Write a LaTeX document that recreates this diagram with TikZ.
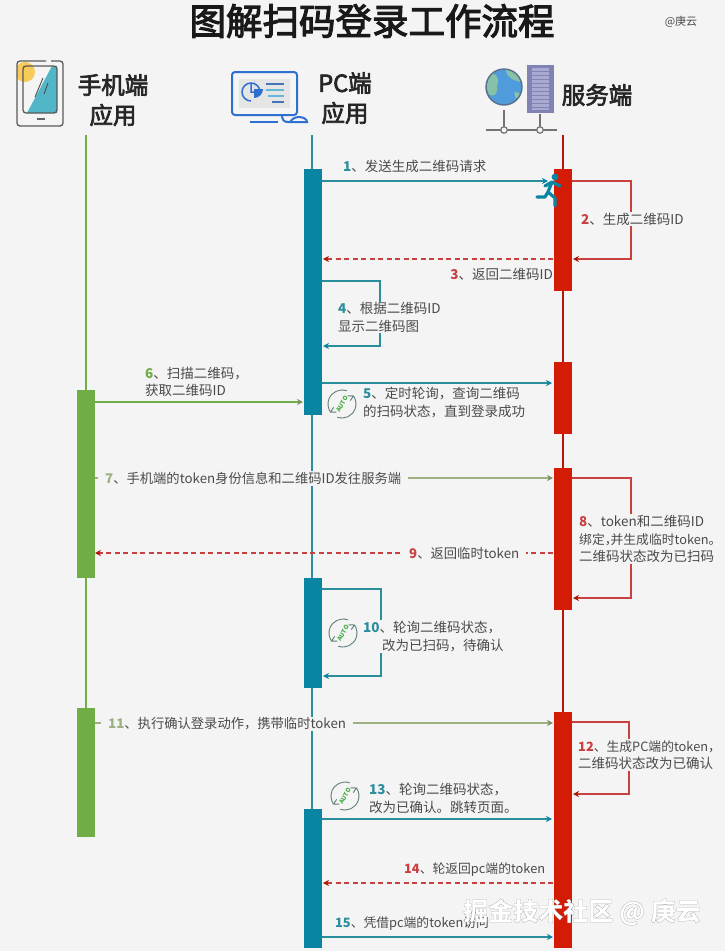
\documentclass[tikz,border=0pt]{standalone}
\usepackage{fontspec}
\usepackage{tikz}
\usetikzlibrary{arrows.meta}
\setmainfont{Noto Sans CJK SC}
\newfontfamily\outlinefont[BoldFeatures={FakeBold=0.04}]{Noto Sans CJK SC}
\newfontfamily\headfont[FakeBold=3]{Noto Sans CJK SC}
\definecolor{pagebg}{HTML}{F4F4F4}
\definecolor{txtgray}{HTML}{4A4A4A}
\definecolor{phonegreen}{HTML}{70AD47}
\definecolor{olivegreen}{HTML}{9DB07F}
\definecolor{pcteal}{HTML}{0A84A3}
\definecolor{lineteal}{HTML}{2B8E9C}
\definecolor{srvred}{HTML}{D41B06}
\definecolor{linered}{HTML}{C8403F}
\definecolor{iconblue}{HTML}{2F6FD0}
\definecolor{iconline}{HTML}{5F7F78}
\definecolor{screenteal}{HTML}{52B6C9}
\definecolor{sunyellow}{HTML}{F6CB5A}
\definecolor{globeblue}{HTML}{4F9BDB}
\definecolor{globegreen}{HTML}{86C2A8}
\definecolor{globeedge}{HTML}{5A6F8C}
\definecolor{rackdark}{HTML}{8183B5}
\definecolor{racklight}{HTML}{A9AAD2}
\newcommand{\stepno}[2]{\textcolor{#1}{\textbf{#2}}、}
\newcommand{\tightline}{\fontsize{12.8}{17.5}\selectfont}
\tikzset{
  barbox/.style={rectangle, inner sep=0pt, outer sep=0pt, minimum width=18pt},
  msglabel/.style={anchor=west, fill=pagebg, inner sep=1pt, align=left, text=txtgray,
    font=\fontsize{13.5}{17.5}\selectfont},
  gaplabel/.style={msglabel, inner xsep=7pt, xshift=-6pt, font=\fontsize{13.3}{17.5}\selectfont},
  headlabel/.style={text=black!85, font=\fontsize{23.5}{30}\headfont},
  tealline/.style={draw=lineteal, line width=1.3pt, -{Stealth[length=6pt,width=6pt,color=pcteal]}},
  redline/.style={draw=linered, line width=1.1pt, -{Stealth[length=6pt,width=6pt,color=srvred!80!black]}},
  reddash/.style={redline, dash pattern=on 5pt off 3.5pt},
  greenline/.style={draw=olivegreen, line width=1.2pt, -{Stealth[length=6pt,width=6pt,color=olivegreen!80!black]}},
  autoicon/.pic={
    \draw[iconline, line width=.9pt] (-70:14) arc (-70:-215:14);
    \draw[iconline, line width=.9pt] (110:14) arc (110:-35:14);
    \draw[iconline, line width=.9pt] (125:10) -- (145:14) -- (158:9);
    \draw[iconline, line width=.9pt] (-55:10) -- (-35:14) -- (-22:9);
    \node[rotate=60, text=green!55!black!75, inner sep=0pt,
      font=\fontsize{6}{6}\selectfont\bfseries] (autotext) at (0,0) {AUTO};
  }
}
\begin{document}
\begin{tikzpicture}[x=1pt, y=-1pt, >=Stealth]
  \useasboundingbox (0,0) rectangle (725,951);
  \fill[pagebg] (0,0) rectangle (725,951);

  % titles
  \node[font=\fontsize{36.5}{40}\headfont, text=black!90] (title) at (372,21) {图解扫码登录工作流程};
  \node[font=\fontsize{11}{12}\selectfont, text=txtgray] (mark) at (681,22) {@庚云};
  \node[headlabel] (phonehead) at (113,85) {手机端};
  \node[headlabel] (phonehead2) at (113,115) {应用};
  \node[headlabel] (pchead) at (345,83) {PC端};
  \node[headlabel] (pchead2) at (345,113) {应用};
  \node[headlabel] (srvhead) at (597,95) {服务端};

  % phone icon
  \begin{scope}
    \clip (17,61) rectangle (64,127);
    \fill[sunyellow] (25,72) circle (10);
  \end{scope}
  \fill[screenteal] (52,66) -- (57,66) -- (57,113) -- (27,113) -- cycle;
  \draw[black!65, line width=1.3pt, rounded corners=3pt] (23,66) rectangle (57,113);
  \draw[black!65, line width=1.3pt, rounded corners=3pt] (46,61) -- (17,61) -- (17,126) -- (63,126) -- (63,61) -- (51,61);
  \draw[black!70, line width=.9pt] (43,78) -- (35,97) (48,83) -- (44,94);
  \draw[black!60, line width=1.3pt] (37,119) -- (45,119);

  % pc icon
  \fill[black!10] (239,79) rectangle (290,108);
  \draw[iconblue, line width=2pt, rounded corners=3pt] (232,72) rectangle (297,115);
  \draw[iconblue, line width=1.5pt] (251,83) -- (251,92) -- (260,92) arc (0:-270:9);
  \fill[iconblue] (254,80) -- (254,89) -- (263,89) arc (0:90:9);
  \draw[iconblue!70!gray, line width=1.3pt] (266,84) -- (284,84) (272,102) -- (284,102);
  \draw[cyan!60!teal!70, line width=1.3pt] (266,90) -- (284,90) (268,96) -- (284,96);
  \draw[iconblue, line width=2.5pt] (250,122) -- (278,122);
  \draw[iconblue, line width=2pt] (282,115) .. controls (282,120) and (284,122) .. (288,122) -- (307,122)
    .. controls (307,119) and (303,117) .. (299,117) .. controls (295,117) and (292,119) .. (290,122);

  % server icon
  \fill[rackdark] (527,65) rectangle (554,113);
  \fill[racklight] (532,68) rectangle (549,110);
  \foreach \y in {71,75,...,107} \draw[rackdark, line width=.8pt] (532,\y) -- (549,\y);
  \fill[globeblue] (504,87) circle (18);
  \fill[globegreen] (491,74) .. controls (497,72) and (500,80) .. (497,86)
    .. controls (499,94) and (493,99) .. (488,93) .. controls (486,86) and (487,79) .. (491,74) -- cycle;
  \fill[globegreen] (506,70) .. controls (512,70) and (519,75) .. (521,82) .. controls (514,81) and (507,78) .. (506,70) -- cycle;
  \fill[globegreen] (515,92) .. controls (519,92) and (521,94) .. (519,97) .. controls (517,100) and (513,97) .. (515,92) -- cycle;
  \draw[globeedge, line width=1.4pt] (504,87) circle (18);
  \draw[black!55, line width=1.3pt] (486,130) -- (557,130) (504,110) -- (504,130) (540,114) -- (540,130);
  \foreach \x/\name in {504/postA,540/postB}
    \node[circle, draw=black!55, fill=pagebg, line width=1.2pt, inner sep=0pt, minimum size=6.5pt] (\name) at (\x,130) {};

  % life lines
  \coordinate (phonetop) at (85.5,135);
  \coordinate (phoneend) at (85.5,710);
  \coordinate (pctop) at (312,135);
  \coordinate (pcend) at (312,948);
  \coordinate (srvtop) at (563,135);
  \coordinate (srvend) at (563,948);
  \draw[phonegreen, line width=2pt] (phonetop) -- (phoneend);
  \draw[lineteal, line width=2pt] (pctop) -- (pcend);
  \draw[srvred!85!black, line width=2pt] (srvtop) -- (srvend);

  % bars
  \foreach \name/\x/\ya/\yb in {barP1/86/390/578, barP2/86/708/837}
    \node[barbox, fill=phonegreen, minimum height={(\yb-\ya)*1pt}] (\name) at (\x,{(\ya+\yb)/2}) {};
  \foreach \name/\x/\ya/\yb in {barC1/312.5/169/415, barC2/312.5/578/688, barC3/312.5/809/948}
    \node[barbox, fill=pcteal, minimum height={(\yb-\ya)*1pt}] (\name) at (\x,{(\ya+\yb)/2}) {};
  \foreach \name/\x/\ya/\yb in {barS1/563/169/291, barS2/563/362/434, barS3/563/468/610, barS4/563/712/948}
    \node[barbox, fill=srvred, minimum height={(\yb-\ya)*1pt}] (\name) at (\x,{(\ya+\yb)/2}) {};

  % end points of the messages
  \coordinate (m1a) at (322,181);   \coordinate (m1b) at (548,181);
  \coordinate (m2a) at (572,181);   \coordinate (m2b) at (573,259);
  \coordinate (m3a) at (553,259);   \coordinate (m3b) at (323,259);
  \coordinate (m4a) at (322,281);   \coordinate (m4b) at (323,346);
  \coordinate (m5a) at (322,383);   \coordinate (m5b) at (552,383);
  \coordinate (m6a) at (95,402);    \coordinate (m6b) at (303,402);
  \coordinate (m7a) at (95,478);    \coordinate (m7b) at (553,478);
  \coordinate (m8a) at (572,478);   \coordinate (m8b) at (573,598);
  \coordinate (m9a) at (553,553);   \coordinate (m9b) at (95,553);
  \coordinate (m10a) at (322,589);  \coordinate (m10b) at (323,676);
  \coordinate (m11a) at (95,723);   \coordinate (m11b) at (553,723);
  \coordinate (m12a) at (572,722);  \coordinate (m12b) at (573,794);
  \coordinate (m13a) at (322,819);  \coordinate (m13b) at (552,819);
  \coordinate (m14a) at (553,883);  \coordinate (m14b) at (323,883);
  \coordinate (m15a) at (322,937);  \coordinate (m15b) at (553,937);

  \draw[tealline] (m1a) -- (m1b);
  \draw[redline] (m2a) -- ++(59,0) |- (m2b);
  \draw[reddash] (m3a) -- (m3b);
  \draw[tealline] (m4a) -- ++(58,0) |- (m4b);
  \draw[tealline] (m5a) -- (m5b);
  \draw[greenline, draw=phonegreen, line width=1.2pt] (m6a) -- (m6b);
  \draw[greenline] (m7a) -- (m7b);
  \draw[redline] (m8a) -- ++(59,0) |- (m8b);
  \draw[reddash] (m9a) -- (m9b);
  \draw[tealline] (m10a) -- ++(59,0) |- (m10b);
  \draw[greenline] (m11a) -- (m11b);
  \draw[redline] (m12a) -- ++(57,0) |- (m12b);
  \draw[tealline] (m13a) -- (m13b);
  \draw[reddash] (m14a) -- (m14b);
  \draw[tealline] (m15a) -- (m15b);

  % runner
  \draw[pcteal, line width=3.2pt, line cap=round, line join=round]
    (552,182) -- (548,192) -- (545,197) -- (537,197) (548,192) -- (555,198) -- (555,206)
    (552,182) -- (545,186) (552,182) -- (560,186);
  \fill[pcteal] (555,177) circle (3.4);

  % labels
  \node[msglabel, fill=none] (t1) at (342,166) {\stepno{lineteal}{1}发送生成二维码请求};
  \node[msglabel] (t2) at (580,219) {\stepno{linered}{2}生成二维码ID};
  \node[msglabel, anchor=east, fill=none] (t3) at (554,274) {\stepno{linered}{3}返回二维码ID};
  \node[msglabel] (t4) at (337,317.5) {\stepno{lineteal}{4}根据二维码ID\\显示二维码图};
  \node[msglabel, fill=none] (t5) at (362,402.5) {\stepno{lineteal}{5}定时轮询，查询二维码\\的扫码状态，直到登录成功};
  \node[msglabel, fill=none] (t6) at (144,382) {\stepno{phonegreen}{6}扫描二维码，\\获取二维码ID};
  \node[gaplabel] (t7) at (104,478.5) {\stepno{olivegreen}{7}手机端的token身份信息和二维码ID发往服务端};
  \node[msglabel] (t8) at (578,539) {\stepno{linered}{8}token和二维码ID\\{\tightline 绑定，\kern-7pt 并生成临时token。}\\二维码状态改为已扫码};
  \node[gaplabel] (t9) at (408,553) {\stepno{linered}{9}返回临时token};
  \node[msglabel] (t10) at (362,636.5) {\stepno{lineteal}{10}轮询二维码状态，\\\hspace*{19pt}改为已扫码，待确认};
  \node[gaplabel] (t11) at (107,724) {\stepno{olivegreen}{11}执行确认登录动作，携带临时token};
  \node[msglabel] (t12) at (577,755) {{\tightline\stepno{linered}{12}生成PC端的token，}\\二维码状态改为已确认};
  \node[msglabel, fill=none] (t13) at (368,798.5) {\stepno{lineteal}{13}轮询二维码状态，\\改为已确认。跳转页面。};
  \node[msglabel, fill=none, font=\fontsize{12.8}{17}\selectfont] (t14) at (403,870) {\stepno{linered}{14}轮返回pc端的token};
  \node[msglabel, fill=none, font=\fontsize{12.8}{17}\selectfont] (t15) at (334,924) {\stepno{lineteal}{15}凭借pc端的token访问};

  \pic at (342,404) {autoicon};
  \pic at (343,633) {autoicon};
  \pic at (345,796) {autoicon};

  % watermark
  \node[text=white, font=\fontsize{25}{27}\outlinefont\bfseries] (wm) at (582,912)
    {\special{pdf:code 0.3 0.3 0.3 RG}掘金技术社区 @ 庚云};
\end{tikzpicture}
\end{document}
